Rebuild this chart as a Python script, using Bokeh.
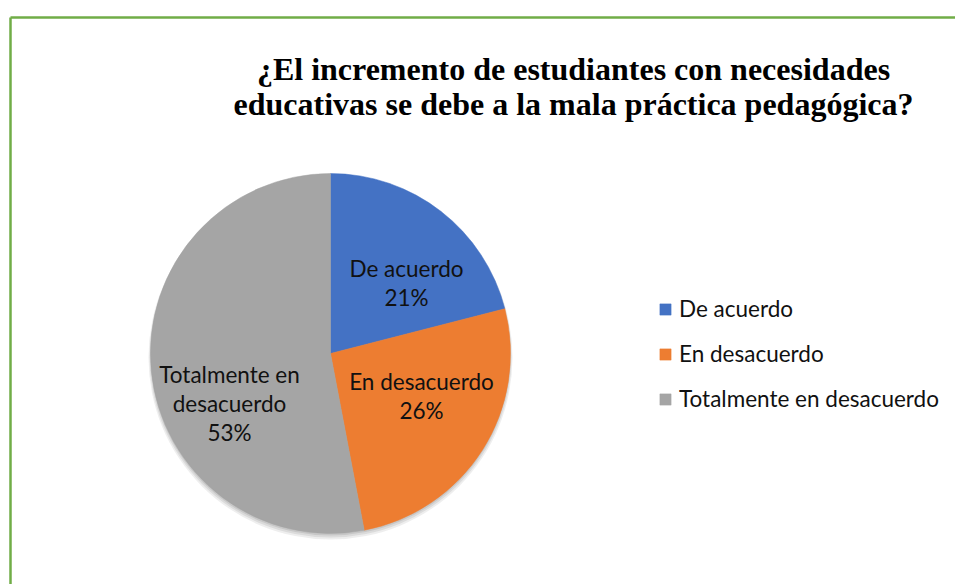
import numpy as np
from bokeh.plotting import figure
from bokeh.models import ColumnDataSource, Range1d, Legend, LegendItem
from bokeh.core.properties import value
from bokeh.embed import file_html
from bokeh.resources import INLINE

# ---- data ----
categories = ["De acuerdo", "En desacuerdo", "Totalmente en desacuerdo"]
percentages = [21, 26, 53]
colors = ["#4472C4", "#ED7D31", "#A5A5A5"]
label_lines = [["De acuerdo"], ["En desacuerdo"], ["Totalmente en", "desacuerdo"]]
title_lines = ["¿El incremento de estudiantes con necesidades",
               "educativas se debe a la mala práctica pedagógica?"]

# ---- layout (page pixels -> data units, 1 unit = 1 px) ----
W, H = 955, 584
def sx(x):
    return x
def sy(y):
    return H - y

CX, CY, R = sx(330), sy(353), 180
label_anchor = [(406, 268), (421, 381), (229, 374)]   # first-line baseline
LINE_STEP = 29
LABEL_FONT = "Lato"
LABEL_SIZE = "22.5px"

p = figure(width=W, height=H, output_backend="svg", toolbar_location=None,
           x_range=Range1d(0, W), y_range=Range1d(0, H),
           x_axis_type=None, y_axis_type=None, min_border=0)
p.outline_line_color = None
p.grid.visible = False
p.background_fill_color = "white"

# green border (top and left edges of the chart area)
p.multi_line(xs=[[sx(10), W + 20], [sx(10), sx(10)]],
             ys=[[sy(17), sy(17)], [sy(17), -20]],
             line_color="#70AD47", line_width=2.5)

# soft shadow
for off, rad, a in [(4, R + 2, 0.10), (3, R + 1, 0.12), (2, R, 0.15)]:
    p.circle(x=[CX], y=[CY - off], radius=rad, fill_color="#555555",
             fill_alpha=a, line_color=None)

# wedges: start at 12 o'clock, clockwise
fr = np.array(percentages, dtype=float) / sum(percentages)
cum = np.concatenate([[0], np.cumsum(fr)])
start = np.pi / 2 - cum[:-1] * 2 * np.pi
end = np.pi / 2 - cum[1:] * 2 * np.pi
src = ColumnDataSource(dict(cat=categories, pct=percentages, color=colors,
                            start=start, end=end))
wr = p.wedge(x=CX, y=CY, radius=R, start_angle="start", end_angle="end",
             direction="clock", fill_color="color", line_color="color",
             line_width=0.5, source=src)

# data labels
lx, ly, lt = [], [], []
for i, lines in enumerate(label_lines):
    ax, ay = label_anchor[i]
    allines = lines + [f"{percentages[i]}%"]
    for j, t in enumerate(allines):
        lx.append(sx(ax))
        ly.append(sy(ay + j * LINE_STEP))
        lt.append(t)
p.text(x=lx, y=ly, text=lt, text_align="center", text_baseline="alphabetic",
       text_font=value(LABEL_FONT), text_font_size=LABEL_SIZE, text_color="#111111")

# title
tx = sx(573)
p.text(x=[tx, tx], y=[sy(68), sy(103)], text=title_lines, text_align="center",
       text_baseline="alphabetic", text_font=value("Liberation Serif"),
       text_font_style="bold", text_font_size="32px", text_color="black")

# legend
items = [LegendItem(label=c, renderers=[wr], index=i) for i, c in enumerate(categories)]
legend = Legend(items=items, location=(658, 172), padding=0, margin=0,
                border_line_color=None, background_fill_alpha=0,
                glyph_width=14, glyph_height=14, label_standoff=7,
                label_height=24, spacing=18,
                label_text_font=LABEL_FONT, label_text_font_size=LABEL_SIZE,
                label_text_color="#111111")
p.add_layout(legend)

open("out.html", "w").write(file_html(p, INLINE))
